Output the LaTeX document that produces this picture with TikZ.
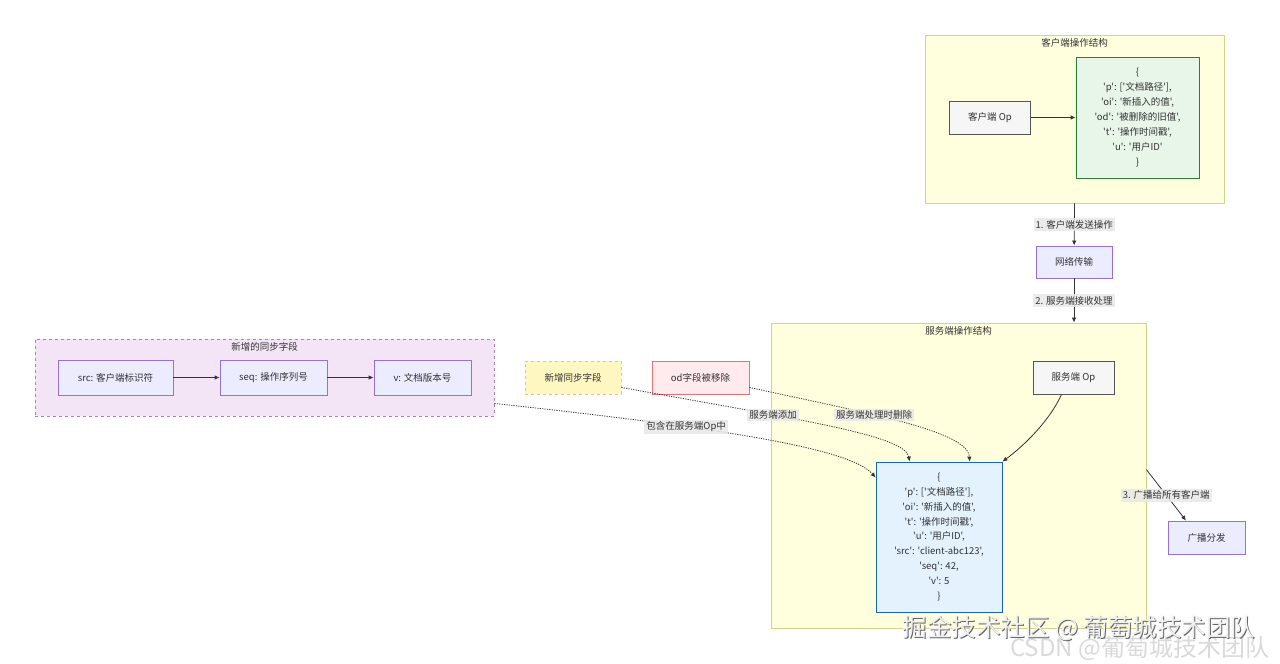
\documentclass[tikz,border=0pt]{standalone}
\usepackage{fontspec}
\setmainfont{Noto Sans CJK SC}[Ligatures=TeXOff]
\usetikzlibrary{arrows.meta, positioning, calc}

\definecolor{ink}{HTML}{333333}
\definecolor{grpfill}{HTML}{FFFFDE}
\definecolor{grpline}{HTML}{D2D68A}
\definecolor{boxfill}{HTML}{ECECFF}
\definecolor{boxline}{HTML}{9370DB}
\definecolor{opfill}{HTML}{F6F6F6}
\definecolor{opline}{HTML}{555555}
\definecolor{cjfill}{HTML}{E8F5E9}
\definecolor{cjline}{HTML}{2E7D32}
\definecolor{sjfill}{HTML}{E3F2FD}
\definecolor{sjline}{HTML}{1565C0}
\definecolor{syncfill}{HTML}{F3E5F5}
\definecolor{syncline}{HTML}{B27CC8}
\definecolor{addfill}{HTML}{FFF7C2}
\definecolor{addline}{HTML}{E3CB5C}
\definecolor{odfill}{HTML}{FFEBEE}
\definecolor{odline}{HTML}{E57373}
\definecolor{lblfill}{HTML}{E8E8E8}

\begin{document}
\begin{tikzpicture}[x=1pt, y=-1pt,
    font=\fontsize{9.5}{12}\selectfont, text=ink,
    group/.style={draw=grpline, fill=grpfill, line width=0.8pt, inner sep=0pt},
    grouptitle/.style={anchor=north, inner sep=0pt, yshift=-4pt},
    box/.style={draw=boxline, fill=boxfill, line width=0.8pt, inner sep=0pt,
                minimum width=#1, minimum height=33pt},
    opbox/.style={draw=opline, fill=opfill, line width=0.8pt, inner sep=0pt,
                  minimum width=81pt, minimum height=33pt},
    flow/.style={draw=ink, line width=0.8pt, -{Latex[length=5pt, width=4.5pt]}},
    dotflow/.style={flow, dash pattern=on 1.2pt off 1.2pt},
    elabel/.style={fill=lblfill, fill opacity=0.85, text opacity=1, inner sep=2pt}]
  \useasboundingbox (0,0) rectangle (1280,664);

  % client side
  \node[group, minimum width=299pt, minimum height=168pt] (clientgrp) at (1074.5,119) {};
  \node[grouptitle] (clienttitle) at (clientgrp.north) {客户端操作结构};
  \node[opbox] (cop) at (990,117.5) {客户端 Op};
  \node[draw=cjline, fill=cjfill, line width=0.8pt, minimum width=123pt, minimum height=121pt,
        inner sep=0pt, align=center, font=\fontsize{9.5}{15}\selectfont] (cjson) at (1137.5,117.5)
    {\{\\'p': ['文档路径'],\\'oi': '新插入的值',\\'od': '被删除的旧值',\\'t': '操作时间戳',\\'u': '用户ID'\\\}};
  \draw[flow] (cop) -- (cjson);

  % transport
  \node[box=76pt, minimum height=32pt] (net) at (1074,262) {网络传输};
  \draw[flow] (clientgrp.south) -- node[elabel] {1. 客户端发送操作} (net);

  % server side
  \node[group, minimum width=375pt, minimum height=305pt] (servergrp) at (958.5,475.5) {};
  \node[grouptitle] (servertitle) at (servergrp.north) {服务端操作结构};
  \draw[flow] (net) -- node[elabel] {2. 服务端接收处理} (net.south |- servergrp.north);
  \node[opbox] (sop) at (1073.5,377.5) {服务端 Op};
  \node[draw=sjline, fill=sjfill, line width=0.8pt, minimum width=126pt, minimum height=150pt,
        inner sep=0pt, align=center, font=\fontsize{9.5}{14.8}\selectfont] (sjson) at (939,537)
    {\{\\'p': ['文档路径'],\\'oi': '新插入的值',\\'t': '操作时间戳',\\'u': '用户ID',\\'src': 'client-abc123',\\'seq': 42,\\'v': 5\\\}};
  \draw[flow] ($(sop.south)+(-12,0)$) .. controls (1050,420) and (1025,445) .. (sjson.north east);

  % broadcast
  \node[box=77pt] (bcast) at (1206.5,537.5) {广播分发};
  \draw[flow] ($(servergrp.north east)+(0,147)$) -- node[elabel] {3. 广播给所有客户端}
    ($(bcast.north)+(-20.5,0)$);

  % new sync fields
  \node[draw=syncline, fill=syncfill, line width=0.8pt, dashed, minimum width=459pt,
        minimum height=77pt, inner sep=0pt] (syncgrp) at (264.5,377.5) {};
  \node[grouptitle] (synctitle) at (syncgrp.north) {新增的同步字段};
  \node[box=115pt, minimum height=35pt] (src) at (115.5,377.5) {src: 客户端标识符};
  \node[box=107pt, minimum height=35pt] (seq) at (273.5,377.5) {seq: 操作序列号};
  \node[box=97pt, minimum height=35pt] (ver) at (422.5,377.5) {v: 文档版本号};
  \draw[flow] (src) -- (seq);
  \draw[flow] (seq) -- (ver);

  % notes
  \node[draw=addline, fill=addfill, line width=0.8pt, dashed, minimum width=96pt,
        minimum height=33pt, inner sep=0pt] (addnote) at (573,377.5) {新增同步字段};
  \node[draw=odline, fill=odfill, line width=0.8pt, minimum width=97pt,
        minimum height=33pt, inner sep=0pt] (odnote) at (700.5,377.5) {od字段被移除};

  \draw[dotflow] ($(syncgrp.south east)+(0,-13)$) .. controls (720,428) and (850,448)
    .. node[elabel, pos=0.33] {包含在服务端Op中} ($(sjson.north west)+(0,16)$);
  \draw[dotflow] ($(addnote.south east)+(0,-7)$) .. controls (800,420) and (905,435)
    .. node[elabel, pos=0.33] {服务端添加} ($(sjson.north west)+(34,0)$);
  \draw[dotflow] ($(odnote.south east)+(0,-7)$) .. controls (860,412) and (968,430)
    .. node[elabel, pos=0.4] {服务端处理时删除} ($(sjson.north west)+(94,0)$);

  % watermarks
  \node[anchor=west, inner sep=0pt, text=gray!30, font=\fontsize{24}{24}\selectfont]
    (csdnmark) at (1010,648) {CSDN @葡萄城技术团队};
  \node[inner sep=0pt, text=gray!80!black, font=\fontsize{24.5}{24.5}\selectfont]
    (jjshadow) at (1080,629) {掘金技术社区 @ 葡萄城技术团队};
  \node[inner sep=0pt, text=gray!12, font=\fontsize{24.5}{24.5}\selectfont]
    (jjmark) at (1079,628) {掘金技术社区 @ 葡萄城技术团队};
\end{tikzpicture}
\end{document}
